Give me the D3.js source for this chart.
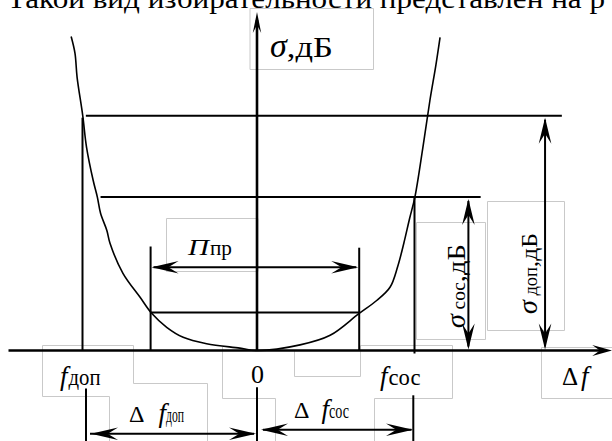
<!DOCTYPE html>
<html>
<head>
<meta charset="utf-8">
<script src="https://cdn.jsdelivr.net/npm/d3@7"></script>
<style>
  html, body { margin: 0; padding: 0; background: #fff; }
  svg { display: block; }
  text { font-family: 'Liberation Serif', 'Times New Roman', 'DejaVu Serif', serif; }
</style>
</head>
<body>
<div id="chart"></div>
<script>
// Selectivity curve sigma(delta f) (arbitrary units)
const curveX = [-5.31, -5.2, -5.14, -4.98, -4.87, -4.68, -4.56, -4.47, -4.29, -4.2, -3.83, -3.34, -3.01, -2.58, -2.11, -1.44, -0.49, 0,
                1.23, 2.09, 2.91, 3.42, 3.8, 4.02, 4.2, 4.36, 4.51, 4.74, 4.94, 5.11, 5.23];
const curveY = [78.5, 74.3, 68.3, 58.8, 50.8, 42.5, 38.3, 34.3, 30, 26.8, 19.3, 13.3, 9.3, 5.8, 3.3, 1.7, 0.6, 0,
                1.4, 3.8, 9.2, 12.5, 15.8, 21, 27, 33, 38.3, 50.8, 62.5, 71.3, 78.3];

// Characteristic frequencies and levels
const fDop = -5.0;        // f доп
const fSos = 4.5;         // f сос
const passBand = [-3.04, 2.92];   // П пр edges
const passLevel = 9.5;
const sigmaDop = 58.7;
const sigmaSos = 38.4;

// Extents of the level lines and dimension arrows (data units)
const levelDopSpan = [-4.89, 8.71];
const levelSosSpan = [-4.47, 6.39];
const arrowSosX = 6.04;
const arrowDopX = 8.23;
const xAxisSpan = [-7.1, 10.15];
const yAxisTop = 84.6;

// Bottom dimension lines (below the axis)
const dimDopY = -20.8;
const dimSosY = -19.8;
const extBottom = -22.8;

const W = 612, H = 441;
const SERIF = "'Liberation Serif', 'Times New Roman', 'DejaVu Serif', serif";
const x = d3.scaleLinear().domain([-5, 5]).range([82, 432]);
const y = d3.scaleLinear().domain([0, 60]).range([350.5, 110.5]);

const svg = d3.select('#chart').append('svg')
  .attr('width', W).attr('height', H)
  .attr('font-family', SERIF);

// Faint text-box frames from the original drawing
const frames = [
  'M250,8.5H373.5V69.5H250Z',
  'M166.5,218.5H258V271.5H166.5Z',
  'M416.5,222.5H485.5V339.5H416.5Z',
  'M487.5,201.5H564.5V330.5H487.5Z',
  'M109.5,396.5H42.5V345.5H133.5V383.5H207.5V441',
  'M109.5,396.5V441',
  'M222.5,347V398.5H275.5V441',
  'M294.5,351V376.5H360.5V345.5H452.5V398.5H374.5V441',
  'M612,347.5H541.5V398.5H612'
];
svg.append('g')
  .selectAll('path')
  .data(frames)
  .join('path')
  .attr('d', d => d)
  .attr('fill', 'none')
  .attr('stroke', '#c9c9c9')
  .attr('stroke-width', 1);

// Clipped caption line at the very top
svg.append('text')
  .attr('x', 7).attr('y', 7.5)
  .attr('font-family', SERIF)
  .attr('font-size', 27)
  .attr('textLength', 598)
  .attr('lengthAdjust', 'spacingAndGlyphs')
  .text('Такой вид избирательности представлен на р');

const ink = svg.append('g').attr('stroke', '#000').attr('fill', 'none');

function seg(x1, y1, x2, y2, w) {
  ink.append('line')
    .attr('x1', x1).attr('y1', y1).attr('x2', x2).attr('y2', y2)
    .attr('stroke-width', w || 2);
}

// barbed arrow head pointing along angle (deg), tip at (px, py)
function head(px, py, angle, L, Wd) {
  svg.append('path')
    .attr('d', `M0,0L${-L},${-Wd}L${-0.62 * L},0L${-L},${Wd}Z`)
    .attr('transform', `translate(${px},${py}) rotate(${angle})`)
    .attr('fill', '#000');
}

// Axes
seg(x(xAxisSpan[0]), y(0), x(xAxisSpan[1]) - 8, y(0), 2.6);
head(x(xAxisSpan[1]), y(0), 0, 20, 5.5);
seg(x(0), y(0), x(0), y(yAxisTop) + 8, 2.6);
head(x(0), y(yAxisTop), -90, 21, 4.2);

// Level lines
seg(x(levelDopSpan[0]), y(sigmaDop), x(levelDopSpan[1]), y(sigmaDop));
seg(x(levelSosSpan[0]), y(sigmaSos), x(levelSosSpan[1]), y(sigmaSos));
seg(x(passBand[0]), y(passLevel), x(passBand[1]), y(passLevel));

// Vertical markers
seg(x(fDop) + 0.5, y(sigmaDop) + 2, x(fDop) + 0.5, y(0));
seg(x(fSos), y(sigmaSos), x(fSos), y(0) + 3);
seg(x(passBand[0]), y(passLevel + 16.5), x(passBand[0]), y(0));
seg(x(passBand[1]), y(passLevel + 16.2), x(passBand[1]), y(0));

// Pass band arrow
const piY = y(passLevel + 11.3);
seg(x(passBand[0]) + 3, piY, x(passBand[1]) - 3, piY);
head(x(passBand[0]) + 1, piY, 180, 27, 6.3);
head(x(passBand[1]) - 1, piY, 0, 27, 6.3);

// Sigma dimension arrows
seg(x(arrowSosX), y(sigmaSos) + 4, x(arrowSosX), y(0) - 4);
head(x(arrowSosX), y(sigmaSos) + 2, -90, 26, 6.3);
head(x(arrowSosX), y(0) - 1, 90, 26, 6.3);
seg(x(arrowDopX), y(sigmaDop) + 4, x(arrowDopX), y(0) - 4);
head(x(arrowDopX), y(sigmaDop) + 2, -90, 26, 6.3);
head(x(arrowDopX), y(0) - 1, 90, 26, 6.3);

// Extension lines and delta-f dimensions below the axis
seg(x(fDop) + 4, y(-9.5), x(fDop) + 4, y(extBottom));
seg(x(0), y(-9.2), x(0), y(extBottom));
seg(x(fSos) - 1.2, y(-11.2), x(fSos) - 1.2, y(extBottom));
seg(x(fDop) + 8, y(dimDopY), x(0) - 3, y(dimDopY));
head(x(fDop) + 9, y(dimDopY), 180, 27, 6.3);
head(x(0) - 1, y(dimDopY), 0, 27, 6.3);
seg(x(0) + 6, y(dimSosY), x(fSos) - 3, y(dimSosY));
head(x(0) + 4, y(dimSosY), 180, 27, 6.3);
head(x(fSos) - 1.5, y(dimSosY), 0, 27, 6.3);

// Selectivity curve
const line = d3.line()
  .x(d => x(d[0]))
  .y(d => y(d[1]))
  .curve(d3.curveCatmullRom.alpha(0.5));
svg.append('path')
  .datum(curveX.map((v, i) => [v, curveY[i]]))
  .attr('d', line)
  .attr('fill', 'none')
  .attr('stroke', '#000')
  .attr('stroke-width', 1.6);

// ---- labels ----
function label(px, py, parts, opts) {
  const t = svg.append('text').attr('x', px).attr('y', py)
    .attr('font-family', SERIF);
  if (opts && opts.rotate) t.attr('transform', `rotate(-90,${px},${py})`);
  parts.forEach(p => {
    const s = t.append('tspan').text(p.t).attr('font-size', p.size);
    if (p.it) s.attr('font-style', 'italic');
    if (p.dx) s.attr('dx', p.dx);
    if (p.len) s.attr('textLength', p.len).attr('lengthAdjust', 'spacingAndGlyphs');
  });
  return t;
}

label(270, 57, [
  { t: 'σ', it: true, size: 34 },
  { t: ',дБ', size: 30, len: 46 }
]);
label(188, 255, [
  { t: 'П', it: true, size: 24, len: 21 },
  { t: 'пр', size: 20, dx: 1, len: 22 }
]);
label(x(0) - 6, 383, [{ t: '0', size: 26 }]);
label(60, 385, [
  { t: 'f', it: true, size: 27 },
  { t: 'доп', size: 23, dx: 1, len: 32 }
]);
label(380, 385, [
  { t: 'f', it: true, size: 27 },
  { t: 'сос', size: 24, dx: 1, len: 32 }
]);
label(562, 385, [
  { t: 'Δ', size: 25 },
  { t: 'f', it: true, size: 27, dx: 3 }
]);
label(129, 422, [
  { t: 'Δ', size: 24 },
  { t: 'f', it: true, size: 27, dx: 14 },
  { t: 'доп', size: 21, len: 18 }
]);
label(294, 418, [
  { t: 'Δ', size: 24 },
  { t: 'f', it: true, size: 27, dx: 12 },
  { t: 'сос', size: 21, len: 20 }
]);
label(465, 328, [
  { t: 'σ', it: true, size: 28 },
  { t: ' сос', size: 19, len: 32 },
  { t: ',дБ', size: 25, len: 38 }
], { rotate: true });
label(537, 314, [
  { t: 'σ', it: true, size: 28 },
  { t: ' доп', size: 19, len: 33 },
  { t: ',дБ', size: 23, len: 34 }
], { rotate: true });
</script>
</body>
</html>
